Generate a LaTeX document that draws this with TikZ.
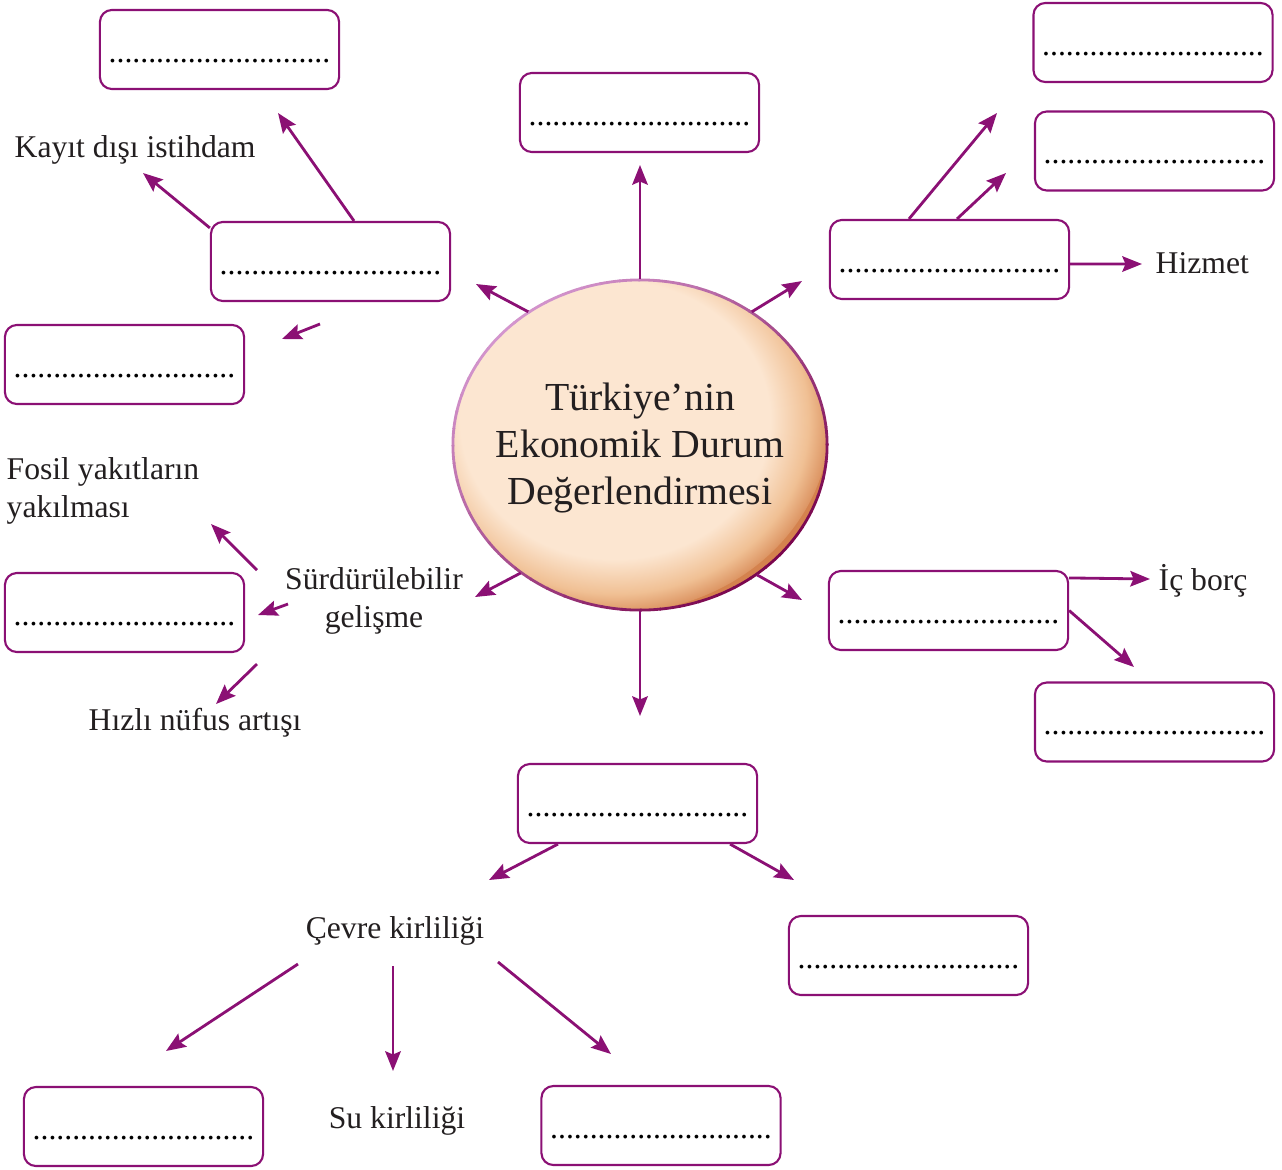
\documentclass[tikz,border=0pt]{standalone}
\usepackage{xcolor}
\usepackage{fontspec}
\setmainfont{Liberation Serif}
\usepackage{tikz}
\usetikzlibrary{arrows.meta,shapes.geometric,calc}
\definecolor{purp}{RGB}{139,16,116}
\definecolor{eggIn}{RGB}{252,230,209}
\definecolor{eggMid}{RGB}{240,192,148}
\definecolor{eggOut}{RGB}{212,130,78}
\definecolor{rimLt}{RGB}{212,150,206}
\definecolor{rimDk}{RGB}{122,6,78}
\definecolor{inkCol}{RGB}{35,31,32}
\newcommand{\dotrow}{............................}
\newcommand{\labfont}{\fontsize{9}{10.6}\selectfont}
\newcommand{\hubfont}{\fontsize{11.3}{13.5}\selectfont}
\pgfdeclareradialshading{eggshade}{\pgfpoint{0bp}{0bp}}{color(0bp)=(eggIn); color(18bp)=(eggIn); color(22.5bp)=(eggMid); color(26bp)=(eggOut); color(40bp)=(eggOut)}
\tikzset{
  box/.style={draw=purp, line width=0.6pt, rounded corners=3.4pt,
              minimum width=2.39cm, minimum height=0.79cm, inner sep=0pt,
              text height=0.52cm, text depth=0.27cm, font=\labfont},
  lbl/.style={text=inkCol, font=\labfont, inner sep=0pt},
  arr/.style={-{Stealth[length=5.6pt,width=4.4pt,inset=0.9pt]}, draw=purp, line width=0.8pt},
}

\begin{document}
\begin{tikzpicture}[x=0.01cm, y=-0.01cm]
  \useasboundingbox (0,0) rectangle (1282,1169);

  % hub
  \node[ellipse, minimum width=3.74cm, minimum height=3.3cm, inner sep=0pt] (eco) at (640,445) {};
  \begin{scope}
    \clip (eco.center) ellipse (1.87cm and 1.65cm);
    \fill[eggOut] (eco.center) ellipse (1.9cm and 1.7cm);
    \shade[shading=eggshade] ($(eco.center)+(-0.25cm,0.25cm)$) ellipse (2.15cm and 1.93cm);
  \end{scope}
  \foreach \a in {0,6,...,354}{
    \pgfmathtruncatemacro\m{50+50*cos(\a+3-135)}
    \draw[line width=0.8pt, draw=rimLt!\m!rimDk]
      ($(eco.center)+(\a:1.87cm and 1.65cm)$)
      arc[start angle=\a, end angle=\a+6.5, x radius=1.87cm, y radius=1.65cm];
  }
  \node[align=center, text=inkCol, font=\hubfont, inner sep=0pt] (ecoTxt) at (640,448)
    {Türkiye’nin\\Ekonomik Durum\\Değerlendirmesi};

  % blank boxes
  \node[box] (b1)  at (219.5,49.5)  {\dotrow};
  \node[box] (b2)  at (639.5,112.5) {\dotrow};
  \node[box] (b3)  at (1153,42.5)   {\dotrow};
  \node[box] (b4)  at (1154.5,151)  {\dotrow};
  \node[box] (b5)  at (949.5,259.5) {\dotrow};
  \node[box] (b6)  at (330.5,261.5) {\dotrow};
  \node[box] (b7)  at (124.5,364.5) {\dotrow};
  \node[box] (b8)  at (124.5,612.5) {\dotrow};
  \node[box] (b9)  at (948.5,610.5) {\dotrow};
  \node[box] (b10) at (1154.5,722)  {\dotrow};
  \node[box] (b11) at (637.5,803.5) {\dotrow};
  \node[box] (b12) at (908.5,955.5) {\dotrow};
  \node[box] (b13) at (143.5,1126.5){\dotrow};
  \node[box] (b14) at (661,1125.5)  {\dotrow};

  % labels
  \node[lbl, anchor=base west] (kayit) at (14,157) {Kayıt dışı istihdam};
  \node[lbl, anchor=base west] (hizmet) at (1155,273) {Hizmet};
  \node[lbl, anchor=base west] (icborc) at (1158,590) {İç borç};
  \node[lbl, anchor=west, align=left] (fosil) at (6,491) {Fosil yakıtların\\yakılması};
  \node[lbl, align=center] (surd) at (374,601) {Sürdürülebilir\\gelişme};
  \node[lbl, anchor=base west] (hizli) at (88,730) {Hızlı nüfus artışı};
  \node[lbl, anchor=base] (cevre) at (395,938) {Çevre kirliliği};
  \node[lbl, anchor=base] (su) at (397,1128) {Su kirliliği};

  % free arrow ends
  \coordinate (tUp) at (640,165);
  \coordinate (tDn) at (640,716);
  \coordinate (tUL) at (476,284);
  \coordinate (tUR) at (802,281);
  \coordinate (tLL) at (475,597);
  \coordinate (tLR) at (802,600);
  \coordinate (tB6a) at (278,113);
  \coordinate (tB6b) at (143,173);
  \coordinate (sB6c) at (320,324);
  \coordinate (tB6c) at (282,339);
  \coordinate (tB5a) at (997,113);
  \coordinate (tB5b) at (1006,173);
  \coordinate (tHiz) at (1142,264);
  \coordinate (tIc) at (1150,579);
  \coordinate (tB9) at (1134,667);
  \coordinate (sSa) at (257,570);
  \coordinate (tSa) at (211,524);
  \coordinate (sSb) at (288,604);
  \coordinate (tSb) at (258,615);
  \coordinate (sSc) at (257,664);
  \coordinate (tSc) at (216,704);
  \coordinate (tB11a) at (489,880);
  \coordinate (tB11b) at (794,880);
  \coordinate (sCa) at (298,964);
  \coordinate (tCa) at (166,1051);
  \coordinate (sCb) at (393,966);
  \coordinate (tCb) at (393,1071);
  \coordinate (sCc) at (498,962);
  \coordinate (tCc) at (611,1054);

  % hub arrows
  \draw[arr] (eco.north) -- (tUp);
  \draw[arr] (eco.south) -- (tDn);
  \draw[arr] (eco.130) -- (tUL);
  \draw[arr] (eco.50) -- (tUR);
  \draw[arr] (eco.227) -- (tLL);
  \draw[arr] (eco.312) -- (tLR);

  % upper left
  \draw[arr] ([xshift=2.35mm]b6.north) -- (tB6a);
  \draw[arr] ([yshift=-0.7mm]b6.north west) -- (tB6b);
  \draw[arr] (sB6c) -- (tB6c);

  % upper right
  \draw[arr] ([xshift=-4.05mm]b5.north) -- (tB5a);
  \draw[arr] ([xshift=0.75mm]b5.north) -- (tB5b);
  \draw[arr] ([yshift=-0.45mm]b5.east) -- (tHiz);

  % lower right
  \draw[arr] ([yshift=-0.8mm]b9.north east) -- (tIc);
  \draw[arr] (b9.east) -- (tB9);

  % left
  \draw[arr] (sSa) -- (tSa);
  \draw[arr] (sSb) -- (tSb);
  \draw[arr] (sSc) -- (tSc);

  % bottom
  \draw[arr] ([xshift=-7.95mm]b11.south) -- (tB11a);
  \draw[arr] ([xshift=9.25mm]b11.south) -- (tB11b);
  \draw[arr] (sCa) -- (tCa);
  \draw[arr] (sCb) -- (tCb);
  \draw[arr] (sCc) -- (tCc);
\end{tikzpicture}
\end{document}
